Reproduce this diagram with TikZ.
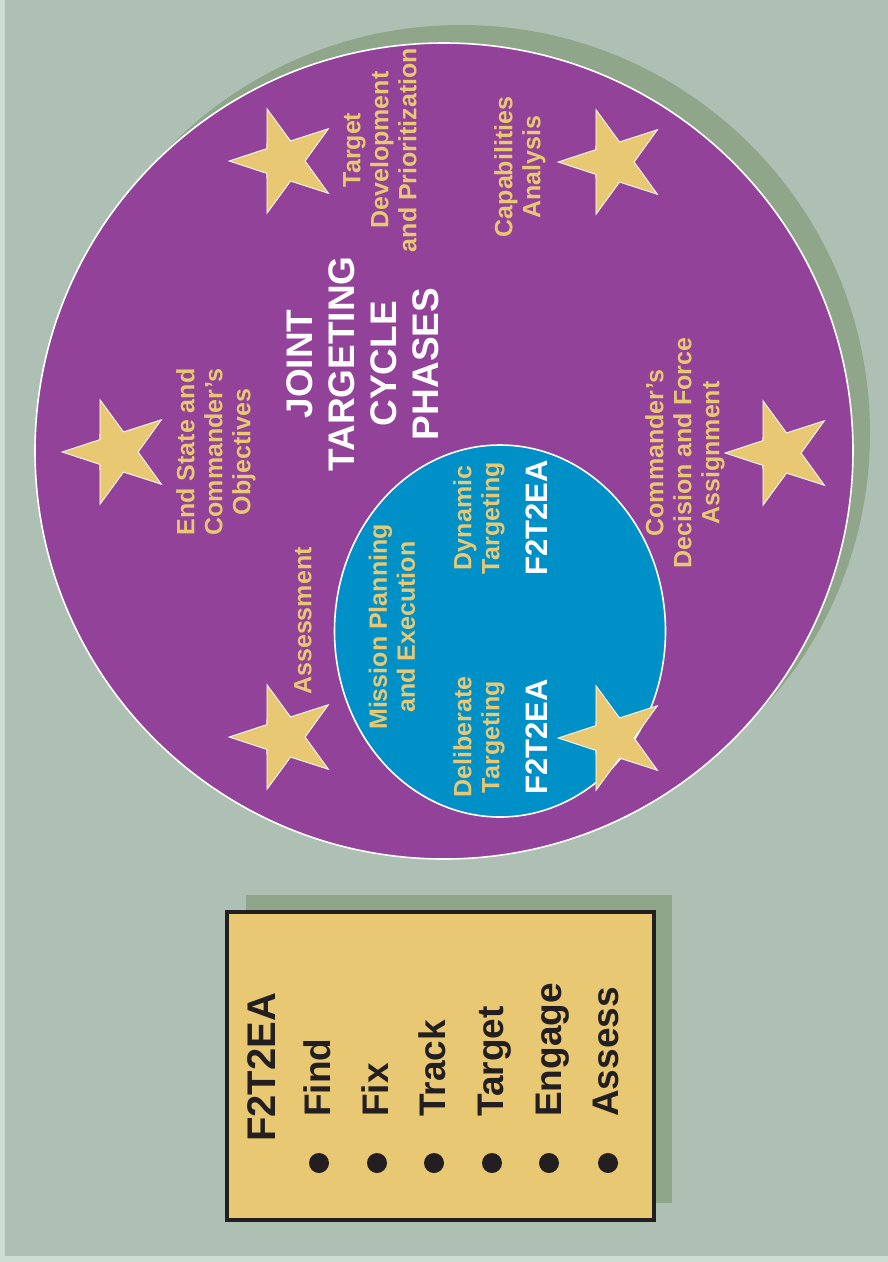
\documentclass[tikz,border=0pt]{standalone}
\usepackage{fontspec}
\setmainfont{Liberation Sans}
\usetikzlibrary{shapes.geometric}
\definecolor{bgc}{HTML}{AEBFB4}
\definecolor{edgec}{HTML}{CCDDD3}
\definecolor{purp}{HTML}{924298}
\definecolor{shad}{HTML}{90A68A}
\definecolor{bluec}{HTML}{0090C8}
\definecolor{goldc}{HTML}{E8C872}
\definecolor{inkc}{HTML}{231F20}
\tikzset{
  starshape/.style={star, star points=5, star point ratio=2.6, shape border rotate=90,
    fill=goldc, draw=white, line width=0.8pt, inner sep=0pt, minimum size=110pt},
  lbl/.style={text=goldc, font=\fontsize{25}{28}\selectfont\bfseries, align=center, rotate=90, inner sep=0pt},
  ttl/.style={text=white, font=\fontsize{37}{42}\selectfont\bfseries, align=center, rotate=90, inner sep=0pt},
  wt/.style={text=white, font=\fontsize{31}{34}\selectfont\bfseries, rotate=90, inner sep=0pt},
  legh/.style={text=inkc, font=\fontsize{40}{44}\selectfont\bfseries, rotate=90, inner sep=0pt, anchor=base west},
  legi/.style={text=inkc, font=\fontsize{37}{40}\selectfont\bfseries, rotate=90, inner sep=0pt, anchor=base west},
  bul/.style={circle, fill=inkc, minimum size=20pt, inner sep=0pt},
}
\begin{document}
\begin{tikzpicture}[x=1pt,y=-1pt]
\useasboundingbox (0,0) rectangle (888,1262);
% background
\fill[edgec] (0,0) rectangle (888,1262);
\fill[bgc] (5,0) rectangle (888,1256);
% big circle with shadow
\fill[shad] (461,433) ellipse [x radius=409, y radius=408];
\node[ellipse, fill=purp, draw=white, line width=1.6pt, minimum width=818pt, minimum height=816pt, inner sep=0pt] (big) at (444,451) {};
% inner ellipse
\node[ellipse, fill=bluec, draw=white, line width=1.6pt, minimum width=331pt, minimum height=372pt, inner sep=0pt] (inner) at (500,631) {};
% stars
\node[starshape] (s1) at (284,161) {};
\node[starshape] (s2) at (613,162) {};
\node[starshape] (s3) at (117,452) {};
\node[starshape] (s4) at (780,453) {};
\node[starshape] (s5) at (284,737) {};
\node[starshape] (s6) at (613,738) {};
% labels
\node[lbl] (tdp) at (380,150) {Target\\Development\\and Prioritization};
\node[lbl] (cap) at (520,167) {Capabilities\\Analysis};
\node[ttl] (jtc) at (363,364) {JOINT\\TARGETING\\CYCLE\\PHASES};
\node[lbl] (esc) at (216,452) {End State and\\Commander’s\\Objectives};
\node[lbl] (cdf) at (685,453) {Commander’s\\Decision and Force\\Assignment};
\node[lbl] (asm) at (303,621) {Assessment};
\node[lbl] (mpe) at (392,627) {Mission Planning\\and Execution};
\node[lbl] (dyn) at (479,518) {Dynamic\\Targeting};
\node[wt] (dynf) at (537,518) {F2T2EA};
\node[lbl] (del) at (479,737) {Deliberate\\Targeting};
\node[wt] (delf) at (537,737) {F2T2EA};
% legend
\fill[shad] (246,895) rectangle (672,1203);
\node[draw=inkc, line width=4pt, fill=goldc, minimum width=427pt, minimum height=308pt, inner sep=0pt] (leg) at (440.5,1066) {};
\node[legh] (lh) at (275,1142) {F2T2EA};
\node[legi] (l1) at (330,1117) {Find};
\node[legi] (l2) at (388,1117) {Fix};
\node[legi] (l3) at (445,1117) {Track};
\node[legi] (l4) at (503,1117) {Target};
\node[legi] (l5) at (561,1117) {Engage};
\node[legi] (l6) at (618,1117) {Assess};
\node[bul] (b1) at (319,1163) {};
\node[bul] (b2) at (377,1163) {};
\node[bul] (b3) at (434,1163) {};
\node[bul] (b4) at (492,1163) {};
\node[bul] (b5) at (549,1163) {};
\node[bul] (b6) at (608,1163) {};
\end{tikzpicture}
\end{document}
